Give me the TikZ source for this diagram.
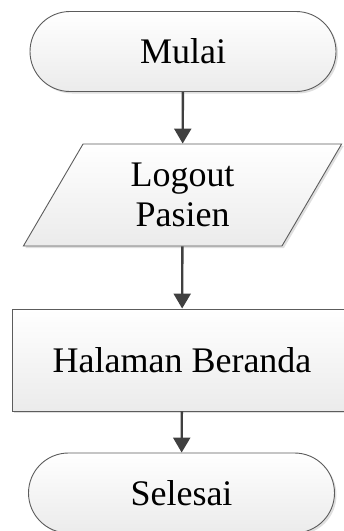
\documentclass[tikz,border=0pt]{standalone}
\usepackage{fontspec}
\setmainfont{Liberation Serif}
\usepackage{tikz}
\usetikzlibrary{arrows.meta,shapes.geometric,shapes.misc,shadows}
\usepackage[dvipsnames,svgnames]{xcolor}

\definecolor{garis}{HTML}{5C5C5C}
\definecolor{isian}{HTML}{EBEBEB}
\definecolor{panah}{HTML}{404040}

\tikzset{
    bentuk/.style={draw=garis,line width=0.9pt,top color=white,bottom color=isian,
        drop shadow={shadow xshift=2pt,shadow yshift=-2pt,opacity=.25},
        font=\fontsize{36}{40}\selectfont,align=center,inner sep=0pt},
    terminal/.style={bentuk,rounded rectangle,minimum width=306pt,minimum height=80pt},
    masukan/.style={bentuk,trapezium,trapezium left angle=64,trapezium right angle=116,
        trapezium stretches=true,minimum width=319pt,minimum height=102pt},
    proses/.style={bentuk,rectangle,minimum width=340pt,minimum height=102pt},
    alur/.style={line width=2.4pt,panah,-{Triangle[length=15pt,width=17pt]}}
}

\begin{document}
\begin{tikzpicture}[x=1pt,y=1pt]
    
    % Batas gambar
    \useasboundingbox (0,0) rectangle (344,-531);
    
    % Gambar simbol mulai dan selesai
    \node[terminal] (mulai) at (183,-51.5) {Mulai};
    \node[terminal] (selesai) at (181.5,-493) {Selesai};
    
    % Gambar simbol input dan proses
    \node[masukan] (logout) at (182.5,-195) {Logout\\Pasien};
    \node[proses] (beranda) at (182,-360) {Halaman Beranda};
    
    % Gambar panah alur
    \draw[alur] (mulai) -- (logout);
    \draw[alur] (logout) -- (beranda);
    \draw[alur] (beranda) -- (selesai);
    
\end{tikzpicture}
\end{document}
